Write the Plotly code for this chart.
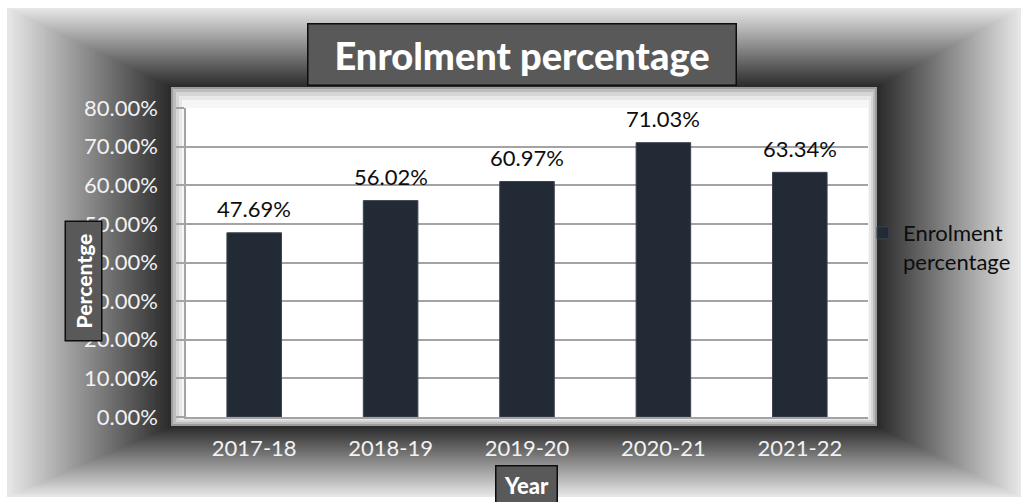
import plotly.graph_objects as go

# Data
years = ["2017-18", "2018-19", "2019-20", "2020-21", "2021-22"]
enrolment = [0.4769, 0.5602, 0.6097, 0.7103, 0.6334]
series_name = "Enrolment<br>percentage"
chart_title = "Enrolment percentage"
x_title = "Year"
y_title = "Percentge"

W, H = 1024, 502
FONT = "Lato"


def px(x):
    return x / W


def py(y):
    return 1 - y / H


def lerp_color(c0, c1, t):
    r = round(c0[0] + (c1[0] - c0[0]) * t)
    g = round(c0[1] + (c1[1] - c0[1]) * t)
    b = round(c0[2] + (c1[2] - c0[2]) * t)
    return f"rgb({r},{g},{b})"


def rect(x0, y0, x1, y1, fill, layer="below"):
    return dict(type="rect", xref="paper", yref="paper",
                x0=px(x0), x1=px(x1), y0=py(y1), y1=py(y0),
                fillcolor=fill, line=dict(width=0), layer=layer)


shapes = []

# Shadow-box background: rectangular path gradient from light edge to dark centre frame
outer = (7, 8, 1021, 497)
inner = (171, 87, 877, 426)
light = (232, 232, 232)
dark = (42, 42, 42)
N = 110
for i in range(N):
    t = i / N
    x0 = outer[0] + (inner[0] - outer[0]) * t
    y0 = outer[1] + (inner[1] - outer[1]) * t
    x1 = outer[2] + (inner[2] - outer[2]) * t
    y1 = outer[3] + (inner[3] - outer[3]) * t
    shapes.append(rect(x0, y0, x1, y1, lerp_color(light, dark, (i + 0.5) / N)))

# Bevelled frame around the plot area
shapes.append(rect(171, 87, 877, 426, "#9c9c9c"))
shapes.append(rect(173, 89, 875, 424, "#bdbdbd"))
shapes.append(rect(176, 92, 873, 422, "#d6d6d6"))
shapes.append(rect(179, 96, 871, 420, "#e8e8e8"))
shapes.append(rect(182, 100, 869, 418, "#f6f6f6"))
shapes.append(rect(186, 108, 868, 417, "#ffffff"))

fig = go.Figure()
fig.add_trace(go.Bar(
    x=years, y=enrolment, name=series_name,
    marker=dict(color="#222a35", line=dict(color="#3d4450", width=1)),
    showlegend=True,
))

annotations = []
# Value labels above each bar
for yr, v in zip(years, enrolment):
    annotations.append(dict(
        x=yr, y=v, xref="x", yref="y", text=f"{v * 100:.2f}%",
        showarrow=False, yshift=24, xanchor="center", yanchor="middle",
        font=dict(family=FONT, size=22, color="#0d0d0d"),
    ))


def boxed(cx, cy, text, size, w, h, angle=0):
    return dict(
        x=px(cx), y=py(cy), xref="paper", yref="paper",
        xanchor="center", yanchor="middle",
        text=text, showarrow=False, textangle=angle,
        width=w, height=h, borderpad=0, borderwidth=1.5,
        bgcolor="#595959", bordercolor="#0d0d0d",
        font=dict(family=FONT, size=size, color="#ffffff", weight=900),
    )


annotations.append(boxed(522, 54.5, chart_title, 38, 427, 60))
annotations.append(boxed(83, 281.5, y_title, 21, 118, 35, angle=-90))
annotations.append(boxed(526.5, 485, x_title, 22, 60, 38))

grid = "#a3a3a3"
fig.update_layout(
    template="none",
    width=W, height=H,
    margin=dict(l=0, r=0, t=0, b=0, autoexpand=False),
    paper_bgcolor="#ffffff",
    plot_bgcolor="rgba(0,0,0,0)",
    bargap=0.6,
    shapes=shapes,
    annotations=annotations,
    font=dict(family=FONT, size=22, color="#f2f2f2"),
    xaxis=dict(
        domain=[px(186), px(868)], automargin=False,
        showgrid=False, showline=True, linecolor=grid, linewidth=1.5,
        ticks="", ticklabelstandoff=11,
        tickfont=dict(family=FONT, size=22, color="#f2f2f2"),
    ),
    yaxis=dict(
        domain=[py(417), py(108)], automargin=False,
        range=[0, 0.8], dtick=0.1, tick0=0, tickformat=".2%",
        showgrid=True, gridcolor=grid, gridwidth=1.5,
        showline=True, linecolor=grid, linewidth=1.5,
        ticks="outside", ticklen=8, tickcolor=grid, tickwidth=1.5,
        ticklabelstandoff=14, zeroline=False,
        tickfont=dict(family=FONT, size=22, color="#f2f2f2"),
    ),
    legend=dict(
        x=px(863), y=py(212), xanchor="left", yanchor="top",
        bgcolor="rgba(0,0,0,0)", borderwidth=0, valign="top",
        font=dict(family=FONT, size=22, color="#0d0d0d"),
    ),
)

fig.write_html("out.html")
